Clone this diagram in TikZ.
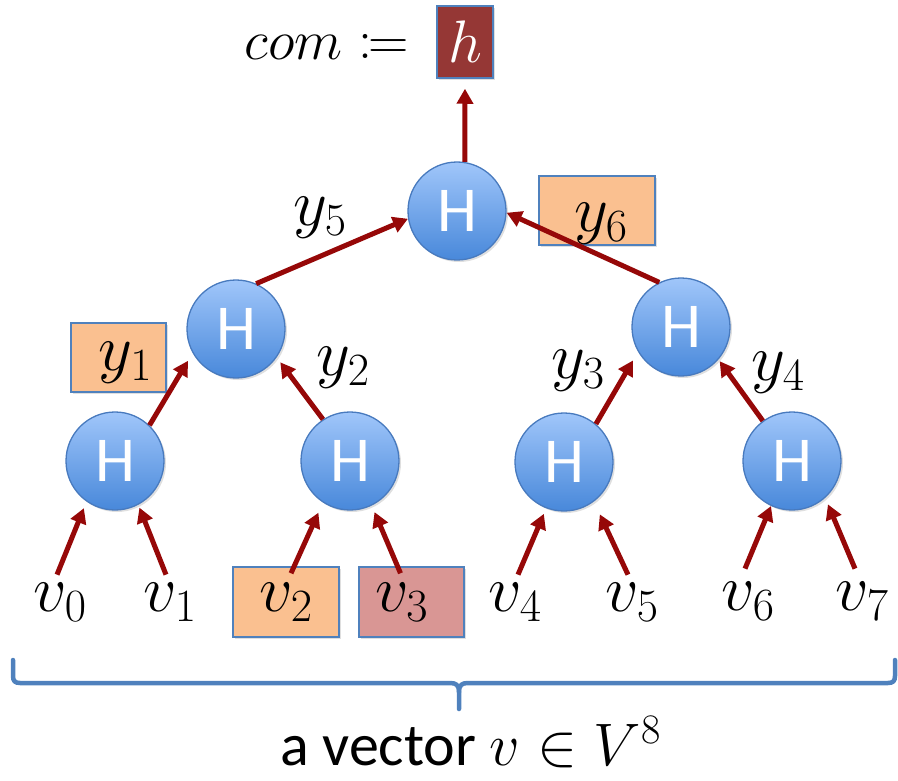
\RequirePackage{fix-cm}
\documentclass[tikz,border=0pt]{standalone}
\usepackage{fontspec}
\newfontfamily\carl{Carlito}
\usepackage{mathtools}
\usetikzlibrary{arrows.meta,shadows,calc}
\definecolor{arrred}{RGB}{150,8,8}
\definecolor{boxblue}{RGB}{79,129,189}
\definecolor{orangefill}{RGB}{250,192,144}
\definecolor{pinkfill}{RGB}{217,150,148}
\definecolor{hred}{RGB}{149,55,53}
\definecolor{ctop}{RGB}{160,198,250}
\definecolor{cbot}{RGB}{72,136,218}
\definecolor{cedge}{RGB}{72,122,190}
\begin{document}
\begin{tikzpicture}[x=1pt,y=-1pt,
  softshadow/.style={drop shadow={opacity=0.25,shadow xshift=2pt,shadow yshift=-2pt}},
  hnode/.style={circle,minimum size=98pt,inner sep=0pt,draw=cedge,line width=1.3pt,
    top color=ctop,bottom color=cbot,text=white,font=\carl\fontsize{64}{70}\selectfont,softshadow},
  arr/.style={line width=5pt,draw=arrred,-{Triangle[length=15pt,width=16pt]}},
  mlab/.style={font=\fontsize{66}{72}\selectfont,inner sep=0pt},
  valbox/.style={draw=boxblue,line width=1.5pt,inner sep=0pt,softshadow,font=\fontsize{66}{72}\selectfont},
  brace/.style={draw=boxblue,line width=4.5pt,line cap=round,line join=round}]
\useasboundingbox (0,0) rectangle (898,781);

% hash nodes
\node[hnode] (t)  at (457,211) {H};
\node[hnode] (m1) at (236,329) {H};
\node[hnode] (m2) at (681,327) {H};
\node[hnode] (b1) at (115,461) {H};
\node[hnode] (b2) at (350,461) {H};
\node[hnode] (b3) at (564,462) {H};
\node[hnode] (b4) at (792,461) {H};

% top commitment
\node[valbox,fill=hred,text=white,minimum width=56pt,minimum height=72pt,font=\fontsize{60}{66}\selectfont] (h) at (465,42) {$h$};
\node[anchor=base east,inner sep=0pt,font=\fontsize{56}{62}\selectfont] (com) at (409,60) {$com \coloneqq$};

% boxed values
\node[valbox,fill=orangefill,minimum width=95pt,minimum height=69pt] (y1) at (118.5,357.5)
  {\hspace*{14pt}\raisebox{-5pt}[\height][\depth]{$y_1$}};
\node[valbox,fill=orangefill,minimum width=116pt,minimum height=69pt] (y6) at (597,210.5)
  {\hspace*{8pt}\raisebox{-13pt}[\height][\depth]{$y_6$}};
\node[valbox,fill=orangefill,minimum width=106pt,minimum height=70pt] (v2) at (286,602) {$v_2$};
\node[valbox,fill=pinkfill,minimum width=105pt,minimum height=70pt] (v3) at (411.5,602) {$v_3$\hspace*{20pt}};

% plain labels
\node[mlab] (y5) at (320,218) {$y_5$};
\node[mlab] (y2) at (343,368) {$y_2$};
\node[mlab] (y3) at (578,371) {$y_3$};
\node[mlab] (y4) at (778,373) {$y_4$};
\node[mlab] (v0) at (60,602) {$v_0$};
\node[mlab] (v1) at (170,602) {$v_1$};
\node[mlab] (v4) at (515,602) {$v_4$};
\node[mlab] (v5) at (632,602) {$v_5$};
\node[mlab] (v6) at (748,601) {$v_6$};
\node[mlab] (v7) at (862,601) {$v_7$};

% tree arrows
\draw[arr,shorten >=9pt] (b1.46) -- (m1.209);
\draw[arr,shorten >=6pt] (b2.123) -- (m1.325);
\draw[arr] (m1.66) -- (t.189);
\draw[arr] (m2.116) -- (t.358);
\draw[arr,shorten >=10pt] (b3.50) -- (m2.210);
\draw[arr,shorten >=2pt] (b4.126) -- (m2.319);
\draw[arr,shorten >=10pt] (t.81) -- (h.south);

% leaf arrows
\draw[arr,shorten >=7pt] ([xshift=-3pt,yshift=8pt]v0.north) -- (b1.235);
\draw[arr,shorten >=3pt] ([xshift=-4pt,yshift=8pt]v1.north) -- (b1.298);
\draw[arr,shorten >=11pt] ([xshift=5pt,yshift=-7pt]v2.north) -- (b2.237);
\draw[arr,shorten >=7pt] ([xshift=-11pt,yshift=-7pt]v3.north) -- (b2.296);
\draw[arr,shorten >=6pt] ([xshift=3pt,yshift=8pt]v4.north) -- (b3.249);
\draw[arr,shorten >=14pt] ([xshift=-4pt,yshift=8pt]v5.north) -- (b3.307);
\draw[arr,shorten >=0pt] ([xshift=-3pt,yshift=13pt]v6.north) -- (b4.245);
\draw[arr,shorten >=7pt] ([xshift=-7pt,yshift=13pt]v7.north) -- (b4.312);

% brace
\draw[brace] (13,660) -- (13,676) .. controls (13,681) and (15,683) .. (20,683)
  -- (450,683) .. controls (456,683) and (459,685) .. (459,692) -- (459,709);
\draw[brace] (459,692) .. controls (459,685) and (462,683) .. (468,683)
  -- (888,683) .. controls (893,683) and (895,681) .. (895,676) -- (895,660);

% caption
\node[anchor=base,inner sep=0pt,font=\carl\fontsize{60}{66}\selectfont] (cap) at (470.5,765) {a vector $v \in V^8$};
\end{tikzpicture}
\end{document}
